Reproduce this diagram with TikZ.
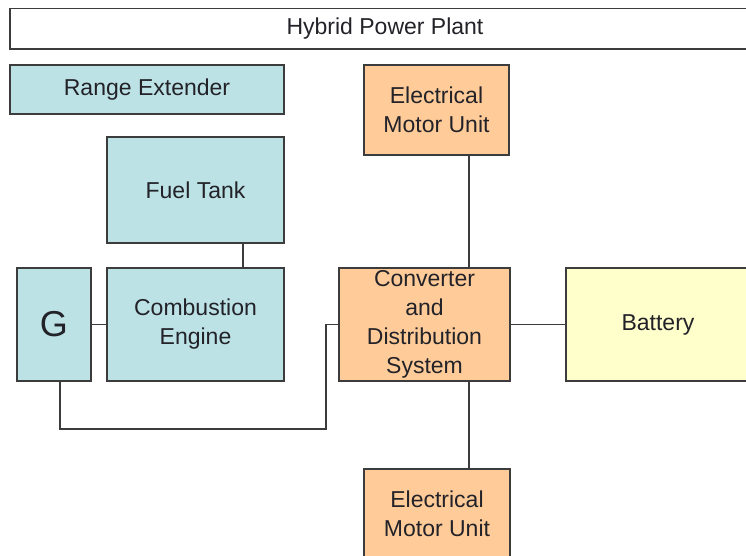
\documentclass[tikz,border=0pt]{standalone}
\usepackage{fontspec}
\setmainfont{Liberation Sans}
\definecolor{bluefill}{HTML}{BCE2E5}
\definecolor{orangefill}{HTML}{FFCC99}
\definecolor{yellowfill}{HTML}{FFFFCC}
\definecolor{edge}{HTML}{3C3C3C}
\definecolor{txt}{HTML}{222228}
\tikzset{
  box/.style={draw=edge, line width=1.8pt, inner sep=0pt, align=center, text=txt,
    font=\fontsize{23}{29}\selectfont},
  bluebox/.style={box, fill=bluefill},
  orangebox/.style={box, fill=orangefill},
  yellowbox/.style={box, fill=yellowfill},
  conn/.style={draw=edge, line width=1.8pt}
}
\begin{document}
\begin{tikzpicture}[x=1pt,y=-1pt]
\useasboundingbox (0,0) rectangle (746,556);
\clip (0,0) rectangle (746,556);
\fill[white] (0,0) rectangle (746,556);
\node[box, fill=white, minimum width=750pt, minimum height=40.5pt] (hybrid) at (385,28.75) {Hybrid Power Plant};
\node[bluebox, minimum width=274pt, minimum height=49pt] (range) at (147,89.5) {Range Extender};
\node[bluebox, minimum width=177pt, minimum height=106pt] (tank) at (195.5,190) {Fuel Tank};
\node[bluebox, minimum width=74pt, minimum height=113pt, font=\fontsize{36}{40}\selectfont] (gen) at (54,324.5) {G};
\node[bluebox, minimum width=177pt, minimum height=113pt] (engine) at (195.5,324.5) {Combustion\\Engine};
\node[orangebox, minimum width=171pt, minimum height=113pt] (conv) at (424.5,324.5) {Converter\\and\\Distribution\\System};
\node[yellowbox, minimum width=184pt, minimum height=113pt] (battery) at (658,324.5) {Battery};
\node[orangebox, minimum width=145pt, minimum height=90pt] (emu1) at (436.5,110) {Electrical\\Motor Unit};
\node[orangebox, minimum width=146pt, minimum height=90pt] (emu2) at (437,514) {Electrical\\Motor Unit};
\coordinate (ft) at (243,0);
\coordinate (v) at (469,0);
\coordinate (c1) at (60,429);
\coordinate (c2) at (326,429);
\draw[conn] (ft |- tank.south) -- (ft |- engine.north);
\draw[conn] (gen.east) -- (engine.west);
\draw[conn] (c1 |- gen.south) -- (c1) -- (c2) |- (conv.west);
\draw[conn] (v |- emu1.south) -- (v |- conv.north);
\draw[conn] (v |- conv.south) -- (v |- emu2.north);
\draw[conn] (conv.east) -- (battery.west);
\end{tikzpicture}
\end{document}
